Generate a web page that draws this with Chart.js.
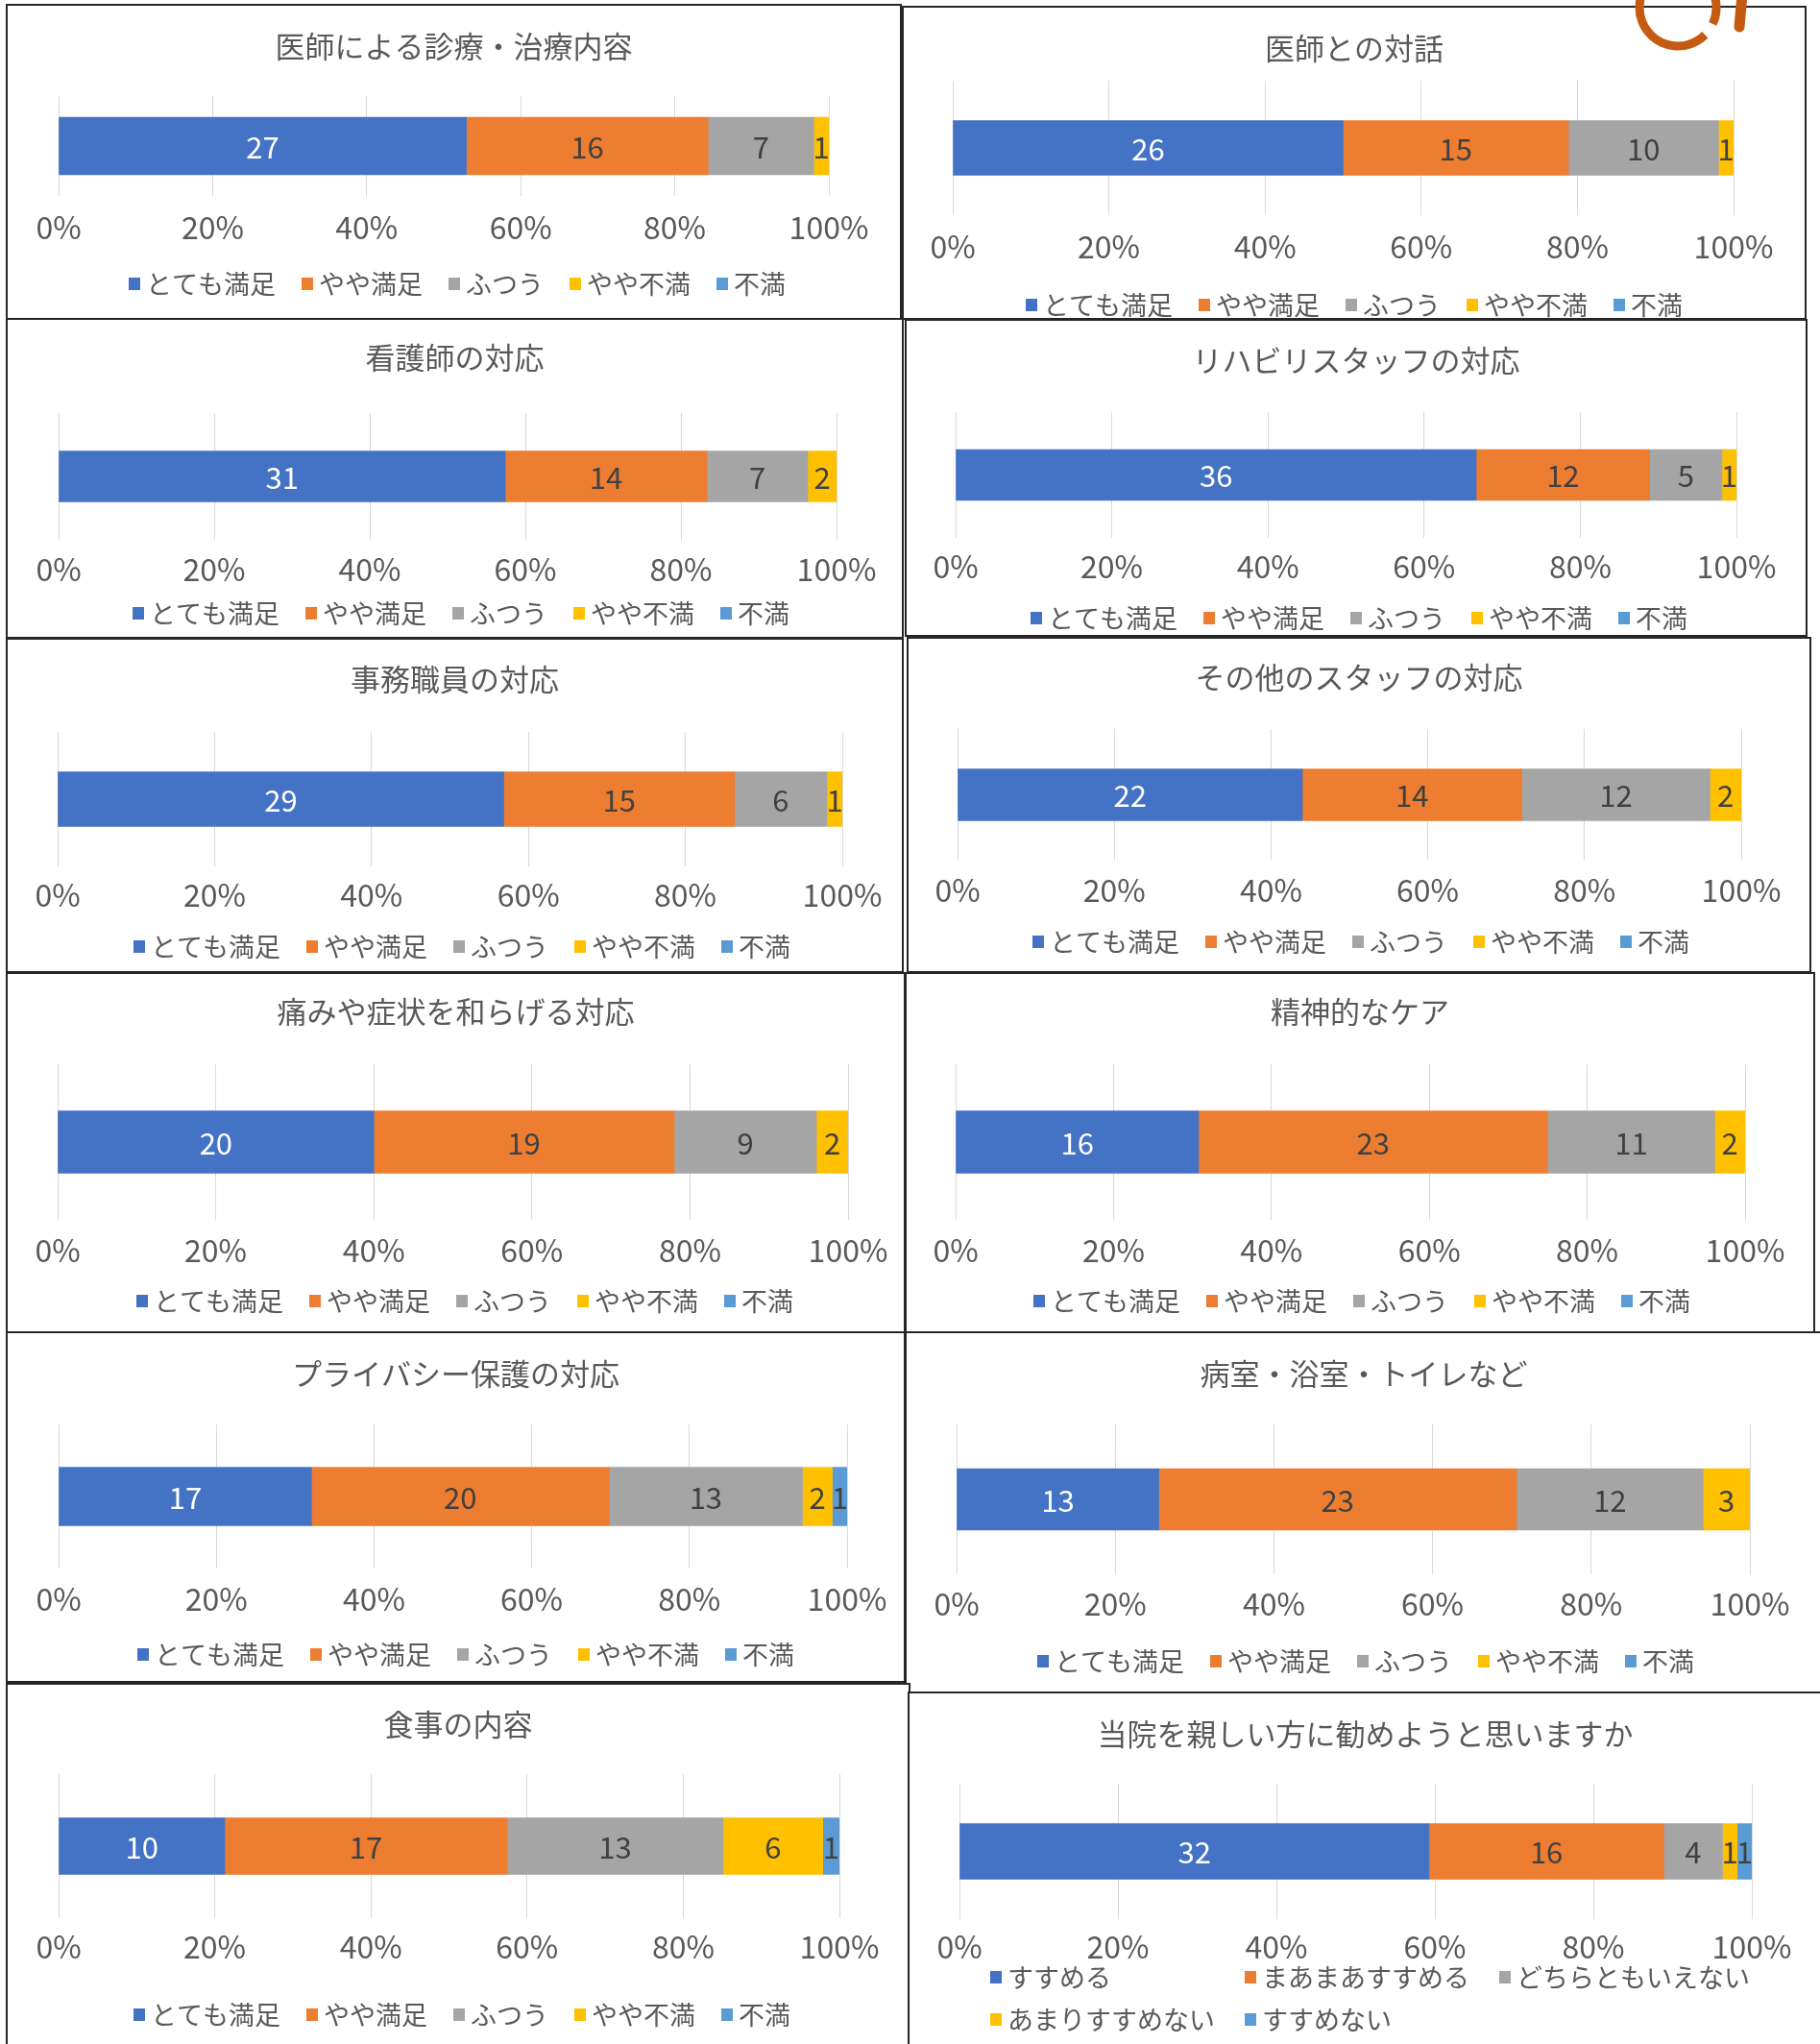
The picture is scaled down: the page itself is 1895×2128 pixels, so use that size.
<!DOCTYPE html>
<html><head><meta charset="utf-8">
<script src="https://cdn.jsdelivr.net/npm/chart.js@4.4.1/dist/chart.umd.min.js"></script>
<style>
html,body{margin:0;padding:0;background:#fff;}
body{width:1895px;height:2128px;position:relative;overflow:hidden;font-family:"Noto Sans CJK JP",sans-serif;}
.panel{position:absolute;overflow:hidden;background:#fff;}
.panel canvas{position:absolute;left:0;top:0;}
.frame{position:absolute;border:2px solid #262626;box-sizing:border-box;pointer-events:none;}
#logo{position:absolute;left:0;top:0;pointer-events:none;}
</style></head><body>
<script>
// ---- data ----
const titles = [
  '医師による診療・治療内容','医師との対話',
  '看護師の対応','リハビリスタッフの対応',
  '事務職員の対応','その他のスタッフの対応',
  '痛みや症状を和らげる対応','精神的なケア',
  'プライバシー保護の対応','病室・浴室・トイレなど',
  '食事の内容','当院を親しい方に勧めようと思いますか'
];
const satisfactionLabels = ['とても満足','やや満足','ふつう','やや不満','不満'];
const recommendLabels = ['すすめる','まあまあすすめる','どちらともいえない','あまりすすめない','すすめない'];
const doctorCare     = [27,16,7,1,0];
const doctorTalk     = [26,15,10,1,0];
const nurse          = [31,14,7,2,0];
const rehabStaff     = [36,12,5,1,0];
const officeStaff    = [29,15,6,1,0];
const otherStaff     = [22,14,12,2,0];
const painRelief     = [20,19,9,2,0];
const mentalCare     = [16,23,11,2,0];
const privacy        = [17,20,13,2,1];
const facilities     = [13,23,12,3,0];
const meals          = [10,17,13,6,1];
const recommend      = [32,16,4,1,1];
const tickLabels = ['0%','20%','40%','60%','80%','100%'];

const seriesByPanel = [doctorCare,doctorTalk,nurse,rehabStaff,officeStaff,otherStaff,painRelief,mentalCare,privacy,facilities,meals,recommend];
const legendByPanel = [0,0,0,0,0,0,0,0,0,0,0,1].map(k => k ? recommendLabels : satisfactionLabels);

// ---- style / layout ----
const FONT = '"Noto Sans CJK JP", "Noto Sans", sans-serif';
const colors = ['#4472C4','#ED7D31','#A5A5A5','#FFC000','#5B9BD5'];
const textColor = '#595959';
const TF = 31, XF = 32, LF = 27, DF = 31, LGAP = 27;
const panels = [
 {L:7,T:5,R:938,B:332,title:48,gTop:100,gBot:204,bar:60,tick:237,legendRows:[295],legendCols:[134],x0:61,x100:863},
 {L:940,T:7,R:1880,B:332,title:50,gTop:84,gBot:224,bar:57,tick:257,legendRows:[317],legendCols:[1068],x0:992,x100:1805},
 {L:7,T:332,R:940,B:664,title:372,gTop:430,gBot:562,bar:53,tick:593,legendRows:[638],legendCols:[138],x0:61,x100:871},
 {L:943,T:333,R:1881,B:662,title:375,gTop:429,gBot:560,bar:53,tick:590,legendRows:[643],legendCols:[1073],x0:995,x100:1808},
 {L:7,T:665,R:940,B:1012,title:707,gTop:762,gBot:902,bar:57,tick:932,legendRows:[985],legendCols:[139],x0:60,x100:877},
 {L:945,T:664,R:1885,B:1012,title:705,gTop:759,gBot:896,bar:54,tick:927,legendRows:[980],legendCols:[1075],x0:997,x100:1813},
 {L:7,T:1013,R:942,B:1387,title:1053,gTop:1108,gBot:1270,bar:65,tick:1302,legendRows:[1354],legendCols:[142],x0:60,x100:883},
 {L:943,T:1013,R:1889,B:1387,title:1053,gTop:1108,gBot:1270,bar:65,tick:1302,legendRows:[1354],legendCols:[1076],x0:995,x100:1817},
 {L:7,T:1387,R:942,B:1751,title:1430,gTop:1483,gBot:1633,bar:61,tick:1665,legendRows:[1722],legendCols:[143],x0:61,x100:882},
 {L:943,T:1387,R:1897,B:1762,title:1430,gTop:1483,gBot:1639,bar:64,tick:1670,legendRows:[1729],legendCols:[1080],x0:996,x100:1822},
 {L:7,T:1753,R:947,B:2140,title:1795,gTop:1847,gBot:1997,bar:59,tick:2027,legendRows:[2097],legendCols:[139],x0:61,x100:874},
 {L:946,T:1762,R:1897,B:2140,title:1805,gTop:1857,gBot:1998,bar:58,tick:2027,legendRows:[2058,2102],legendCols:[1031,1296,1561],x0:999,x100:1824}
];

// value labels in the middle of each segment
const segmentLabels = {
  id:'segmentLabels',
  afterDatasetsDraw(chart){
    const ctx = chart.ctx;
    ctx.save();
    ctx.font = DF + 'px ' + FONT;
    ctx.textAlign = 'center';
    ctx.textBaseline = 'middle';
    chart.data.datasets.forEach((ds, di) => {
      const meta = chart.getDatasetMeta(di);
      meta.data.forEach((el, j) => {
        const n = ds.counts[j];
        if (!n) return;
        ctx.fillStyle = di === 0 ? '#FFFFFF' : '#404040';
        ctx.fillText(String(n), (el.x + el.base) / 2, el.y + 1);
      });
    });
    ctx.restore();
  }
};
// Excel-like legend: small square, short gap, text; either one flowing row or fixed columns
const excelLegend = {
  id:'excelLegend',
  afterDraw(chart, args, opts){
    if (!opts || !opts.rows) return;
    const ctx = chart.ctx;
    ctx.save();
    ctx.font = LF + 'px ' + FONT;
    ctx.textAlign = 'left';
    ctx.textBaseline = 'middle';
    const dsets = chart.data.datasets;
    let x = opts.cols[0];
    dsets.forEach((ds, i) => {
      let bx, by;
      if (opts.cols.length > 1) {
        bx = opts.cols[i % opts.cols.length];
        by = opts.rows[Math.floor(i / opts.cols.length)];
      } else {
        bx = x; by = opts.rows[0];
      }
      ctx.fillStyle = ds.backgroundColor;
      ctx.fillRect(bx, by - 6, 12, 13);
      ctx.fillStyle = textColor;
      ctx.fillText(ds.label, bx + 18, by + 1);
      x = bx + 18 + ctx.measureText(ds.label).width + opts.gap;
    });
    ctx.restore();
  }
};

panels.forEach((p, i) => {
  const W = p.R - p.L, H = p.B - p.T;
  const wrap = document.createElement('div');
  wrap.className = 'panel';
  Object.assign(wrap.style, {left:p.L+'px', top:p.T+'px', width:W+'px', height:H+'px'});
  document.body.appendChild(wrap);
  const lastRowRel = p.legendRows[p.legendRows.length - 1] - p.T;
  const cH = Math.max(H, lastRowRel + 26);
  const cv = document.createElement('canvas');
  cv.width = W; cv.height = cH;
  cv.style.width = W + 'px'; cv.style.height = cH + 'px';
  wrap.appendChild(cv);

  const tH = TF * 1.2, xH = XF * 1.2;
  const titleRel = p.title - p.T;
  const tpt = titleRel - tH / 2;
  const tpb = (p.gTop - p.T) - titleRel - tH / 2;
  const tickPad = p.tick - p.gBot - xH / 2;
  const axisH = tickPad + xH;
  const pb = cH - (p.gBot - p.T) - axisH;
  const x0rel = p.x0 - p.L, x100rel = p.x100 - p.L;
  const legendOpts = {cols:p.legendCols.map(v => v - p.L), rows:p.legendRows.map(v => v - p.T), gap:LGAP};

  const vals = seriesByPanel[i];
  const total = vals.reduce((a, b) => a + b, 0);
  const labels = legendByPanel[i];
  const datasets = labels.map((lab, k) => ({
    label: lab,
    data: [vals[k] / total * 100],
    counts: [vals[k]],
    backgroundColor: colors[k],
    borderWidth: 0,
    barThickness: p.bar
  }));
  new Chart(cv, {
    type:'bar',
    data:{labels:[''], datasets},
    plugins:[segmentLabels, excelLegend],
    options:{
      indexAxis:'y',
      responsive:false,
      animation:false,
      devicePixelRatio:1,
      layout:{padding:{top:0, left:0, right:0, bottom:pb}},
      scales:{
        x:{type:'linear', min:0, max:100, stacked:true, position:'bottom',
           grid:{color:'#D9D9D9', lineWidth:1, drawTicks:false},
           border:{display:false},
           ticks:{stepSize:20, padding:tickPad, color:textColor, maxRotation:0, autoSkip:false,
                  font:{family:FONT, size:XF}, callback:(v, idx) => tickLabels[idx]},
           afterFit:(s) => { s.height = axisH; }},
        y:{type:'category', stacked:true, display:true,
           grid:{display:false}, border:{display:false}, ticks:{display:false},
           afterFit:(s) => { s.width = x0rel; }},
        yr:{type:'linear', position:'right', display:true,
           grid:{display:false}, border:{display:false}, ticks:{display:false},
           afterFit:(s) => { s.width = W - x100rel; }}
      },
      plugins:{
        title:{display:true, text:titles[i], color:textColor,
               font:{family:FONT, size:TF, weight:'normal'}, padding:{top:tpt, bottom:tpb}},
        legend:{display:false},
        tooltip:{enabled:false},
        excelLegend:legendOpts
      }
    }
  });
  const fr = document.createElement('div');
  fr.className = 'frame';
  Object.assign(fr.style, {left:(p.L-1)+'px', top:(p.T-1)+'px', width:(W+2)+'px', height:(H+2)+'px'});
  document.body.appendChild(fr);
});
</script>
<svg id="logo" width="1895" height="80" viewBox="0 0 1895 80">
  <path d="M 1775.3 36.3 A 40 40 0 1 1 1783.3 24.9" fill="none" stroke="#C55A11" stroke-width="9"/>
  <line x1="1814" y1="-6" x2="1811" y2="28" stroke="#C55A11" stroke-width="11" stroke-linecap="round"/>
</svg>
</body></html>
